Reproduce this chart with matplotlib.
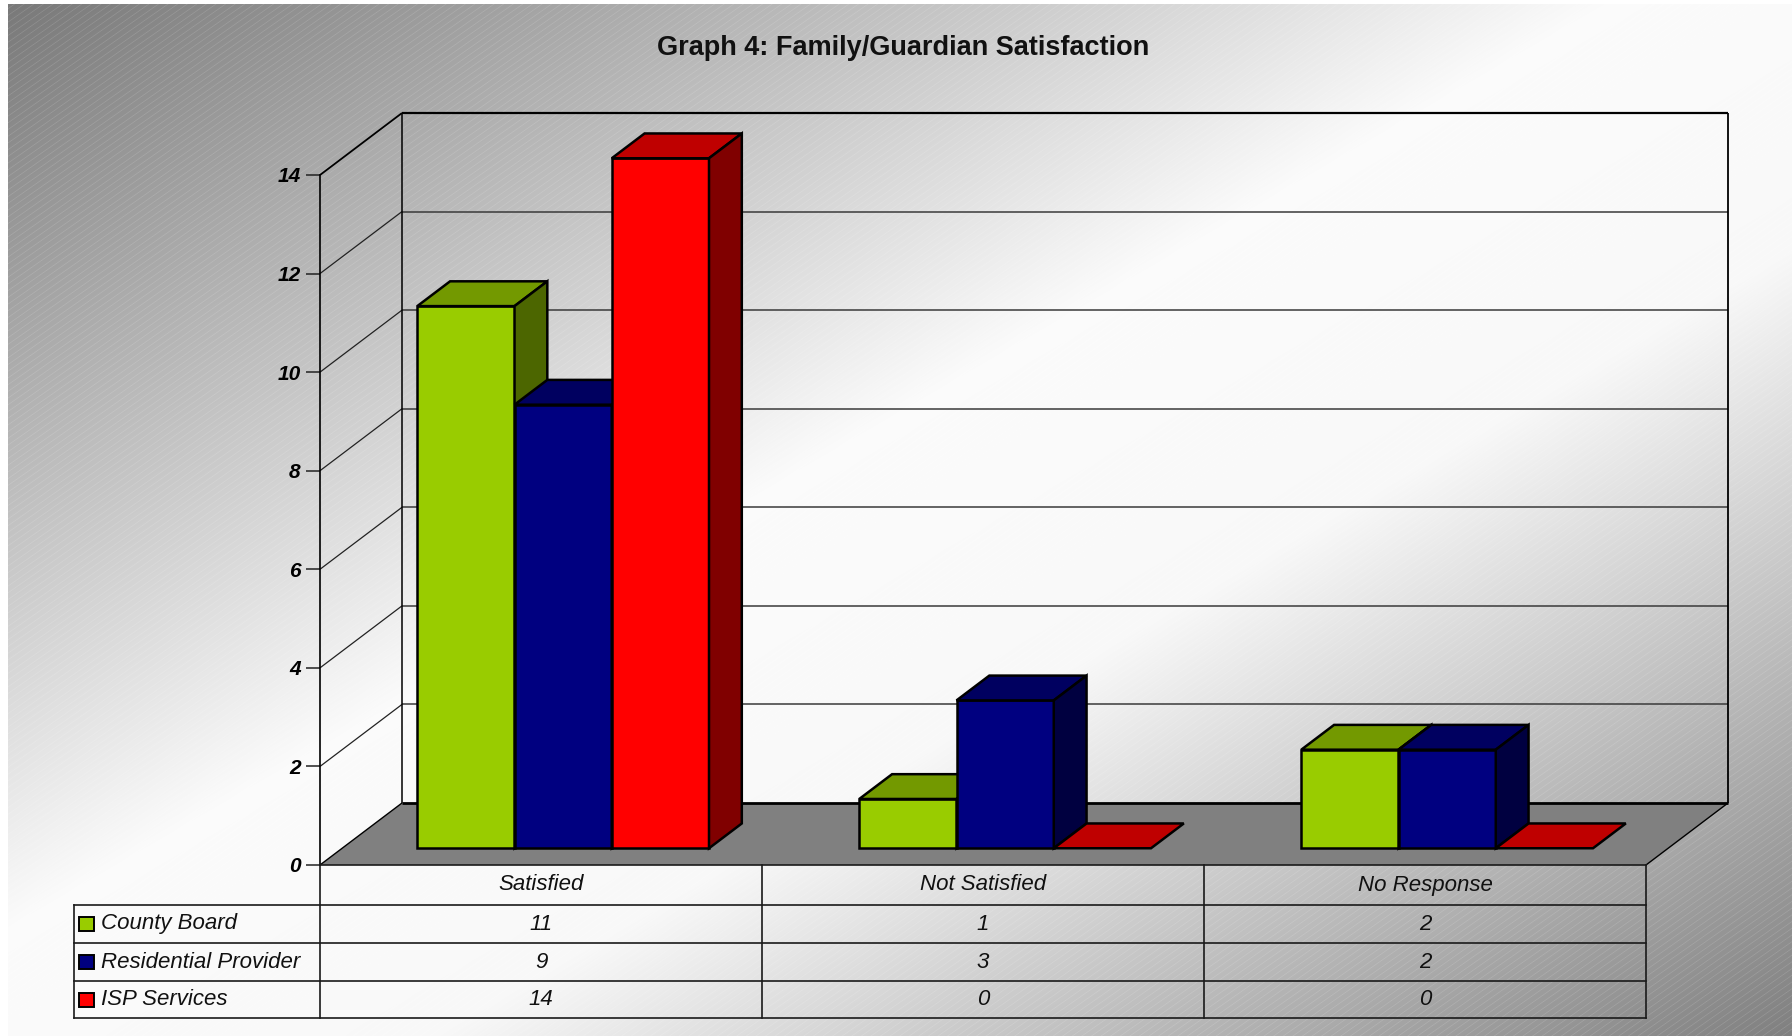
import numpy as np
import matplotlib
matplotlib.use("Agg")
import matplotlib.pyplot as plt
from matplotlib.patches import Polygon, Rectangle
import matplotlib.transforms as mtransforms

plt.rcParams['font.family'] = ['Liberation Sans', 'DejaVu Sans']

# ---- data ----
title = "Graph 4: Family/Guardian Satisfaction"
categories = ["Satisfied", "Not Satisfied", "No Response"]
series_names = ["County Board", "Residential Provider", "ISP Services"]
county_board = [11, 1, 2]
residential_provider = [9, 3, 2]
isp_services = [14, 0, 0]
series_values = [county_board, residential_provider, isp_services]
y_ticks = [0, 2, 4, 6, 8, 10, 12, 14]

front_colors = ["#99CC00", "#000080", "#FF0000"]
top_colors = ["#739900", "#000060", "#BF0000"]
side_colors = ["#4C6600", "#000040", "#800000"]

W, H = 1792, 1036
fig = plt.figure(figsize=(W / 100, H / 100), dpi=100)

# ---- textured grey background ----
bg = fig.add_axes([0, 0, 1, 1], zorder=-5)
bg.set_axis_off()
yy, xx = np.mgrid[0:H, 0:W].astype(float)
t = (xx / W + yy / H) / 2
base = np.interp(t, [0.0, 0.45, 0.62, 1.0], [0.47, 0.985, 0.975, 0.50])
ang = np.deg2rad(35)
s = xx * np.sin(ang) + yy * np.cos(ang)
period = 5.5
d = np.abs((s % period) - period / 2)
stripe = np.clip(1.0 - (period / 2 - d) / 0.8, 0, 1)
img = base + (1 - base) * 0.12 * stripe
img[:, :8] = 1.0
img[:4, :] = 1.0
bg.imshow(np.dstack([img, img, img]), extent=[0, W, H, 0], aspect='auto',
          interpolation='nearest')
bg.set_xlim(0, W)
bg.set_ylim(H, 0)

# ---- main plotting axes (front plane of the 3D box) ----
left_px, right_px, top_px, zero_px = 320, 1646, 175, 865
ax = fig.add_axes([left_px / W, (H - zero_px) / H, (right_px - left_px) / W,
                   (zero_px - top_px) / H])
ax.patch.set_alpha(0)
n_cat = len(categories)
ymax = y_ticks[-1]
ax.set_xlim(0, n_cat)
ax.set_ylim(0, ymax)
for sp in ["top", "right", "bottom"]:
    ax.spines[sp].set_visible(False)
ax.spines["left"].set_linewidth(1.2)
ax.spines["left"].set_zorder(6)
ax.set_xticks([])
ax.set_yticks(y_ticks)
ax.tick_params(axis='y', length=10, width=1.1, pad=4, labelsize=15,
               color="#222222")
for lbl in ax.get_yticklabels():
    lbl.set_fontweight('bold')
    lbl.set_fontstyle('italic')

# oblique depth offset, in data units
DX = 82 / ((right_px - left_px) / n_cat)
DY = 62 / ((zero_px - top_px) / ymax)


def P(x, v, depth):
    return (x + depth * DX, v + depth * DY)


def seg(p, q, lw=1.0, color="black", z=2):
    ax.plot([p[0], q[0]], [p[1], q[1]], color=color, lw=lw, zorder=z,
            clip_on=False, solid_capstyle='butt')


# floor
ax.add_patch(Polygon([P(0, 0, 0), P(n_cat, 0, 0), P(n_cat, 0, 1), P(0, 0, 1)],
                     closed=True, facecolor="#808080", edgecolor="none",
                     zorder=1, clip_on=False))
seg(P(0, 0, 0), P(0, 0, 1), 1.0)
seg(P(n_cat, 0, 0), P(n_cat, 0, 1), 1.0)
seg(P(0, 0, 1), P(n_cat, 0, 1), 2.0)

# gridlines on back and side walls
for v in y_ticks[1:-1]:
    seg(P(0, v, 1), P(n_cat, v, 1), 1.1, "#3a3a3a")
    seg(P(0, v, 0), P(0, v, 1), 0.9, "#222222")

# wall borders
seg(P(0, ymax, 1), P(n_cat, ymax, 1), 1.6)
seg(P(n_cat, 0, 1), P(n_cat, ymax, 1), 1.3)
seg(P(0, 0, 1), P(0, ymax, 1), 1.1)
seg(P(0, ymax, 0), P(0, ymax, 1), 1.3)

# ---- 3D bars ----
bar_w = 0.22
group_start = 0.17
f0, f1 = 0.27, 0.67
z = 3
edge = dict(edgecolor="black", linewidth=1.8, joinstyle='miter', clip_on=False)
for i in range(n_cat):
    for k, vals in enumerate(series_values):
        v = vals[i]
        x0 = i + group_start + k * bar_w
        x1 = x0 + bar_w
        if v > 0:
            front = [P(x0, 0, f0), P(x1, 0, f0), P(x1, v, f0), P(x0, v, f0)]
            ax.add_patch(Polygon(front, closed=True, facecolor=front_colors[k],
                                 zorder=z, **edge))
        top = [P(x0, v, f0), P(x1, v, f0), P(x1, v, f1), P(x0, v, f1)]
        ax.add_patch(Polygon(top, closed=True, facecolor=top_colors[k],
                             zorder=z + 0.1, **edge))
        if v > 0:
            side = [P(x1, 0, f0), P(x1, 0, f1), P(x1, v, f1), P(x1, v, f0)]
            ax.add_patch(Polygon(side, closed=True, facecolor=side_colors[k],
                                 zorder=z + 0.2, **edge))
        z += 1

# ---- data table ----
px = mtransforms.Affine2D().scale(1 / W, -1 / H).translate(0, 1) + fig.transFigure
cat_tr = mtransforms.blended_transform_factory(ax.transData, px)
row_edges = [865, 905, 943, 981, 1018]
label_left = 74
line_kw = dict(color="#1a1a1a", lw=1.2, zorder=8, clip_on=False)

# horizontal lines
ax.plot([0, n_cat], [row_edges[0]] * 2, transform=cat_tr, **line_kw)
for yv in row_edges[1:]:
    fig.add_artist(plt.Line2D([label_left, right_px], [yv, yv], transform=px,
                              **line_kw))
# vertical lines
for c in range(n_cat + 1):
    ax.plot([c, c], [row_edges[0], row_edges[-1]], transform=cat_tr, **line_kw)
fig.add_artist(plt.Line2D([label_left, label_left], [row_edges[1], row_edges[-1]],
                          transform=px, **line_kw))

txt_kw = dict(fontsize=16, fontstyle='italic', color="#111111", va='center')
for c, name in enumerate(categories):
    ax.text(c + 0.5, (row_edges[0] + row_edges[1]) / 2, name, transform=cat_tr,
            ha='center', **txt_kw)
for k, (name, vals) in enumerate(zip(series_names, series_values)):
    yc = (row_edges[k + 1] + row_edges[k + 2]) / 2
    fig.add_artist(Rectangle((79, yc + 7), 15, -14, transform=px,
                             facecolor=front_colors[k], edgecolor="black",
                             linewidth=1.4, zorder=9))
    fig.text(101, yc, name, transform=px, ha='left', **txt_kw)
    for c, v in enumerate(vals):
        ax.text(c + 0.5, yc, str(v), transform=cat_tr, ha='center', **txt_kw)

# ---- title ----
fig.text(903, 48, title, transform=px, ha='center', va='center',
         fontsize=19.5, fontweight='bold', color="#111111")

fig.savefig("out.png", dpi=100)
